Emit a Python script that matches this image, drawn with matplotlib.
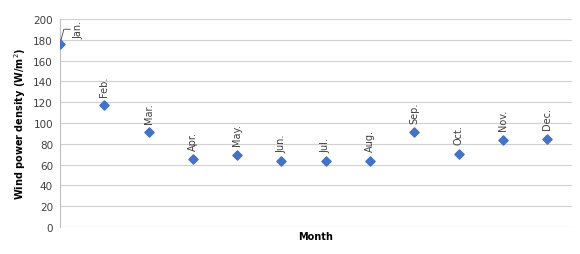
import matplotlib.pyplot as plt

# monthly wind power density
months = ['Jan.', 'Feb.', 'Mar.', 'Apr.', 'May.', 'Jun.', 'Jul.', 'Aug.', 'Sep.', 'Oct.', 'Nov.', 'Dec.']
month_idx = [1, 2, 3, 4, 5, 6, 7, 8, 9, 10, 11, 12]
density = [176, 117, 91, 65, 69, 63, 63, 63.5, 91, 70.5, 84, 85]

plt.rcParams['font.family'] = ['DejaVu Sans']

fig = plt.figure(figsize=(5.8, 2.55), dpi=100)
ax = fig.add_axes([0.1034, 0.106, 0.8826, 0.816])

ax.scatter(month_idx, density, marker='D', s=22, color='#4472C4', zorder=3)

# data labels above each point
for i, (m, v) in enumerate(zip(months, density)):
    if i == 0:
        ax.annotate(m, (month_idx[i], v), xytext=(13, 4), textcoords='offset points',
                    rotation=90, ha='center', va='bottom', fontsize=7, color='#404040',
                    arrowprops=dict(arrowstyle='-', color='#404040', lw=0.6,
                                    connectionstyle='angle,angleA=0,angleB=75,rad=0',
                                    shrinkA=0, shrinkB=3))
    else:
        ax.annotate(m, (month_idx[i], v), xytext=(0, 7), textcoords='offset points',
                    rotation=90, ha='center', va='bottom', fontsize=7, color='#404040')

ax.set_xlim(1, 12.56)
ax.set_ylim(0, 200)
ax.set_yticks(range(0, 201, 20))
ax.set_xticks([])
ax.grid(axis='y', color='#d0d0d0', lw=0.8)
ax.set_axisbelow(True)
for s in ['top', 'right', 'bottom']:
    ax.spines[s].set_visible(False)
ax.spines['left'].set_color('#bfbfbf')
ax.tick_params(axis='y', length=0, labelsize=7.5, colors='#404040', pad=5)

ax.set_ylabel('Wind power density (W/m$^2$)', fontsize=7, fontweight='bold', labelpad=4)
ax.set_xlabel('Month', fontsize=7, fontweight='bold', labelpad=3)

fig.savefig('out.png', dpi=100)
